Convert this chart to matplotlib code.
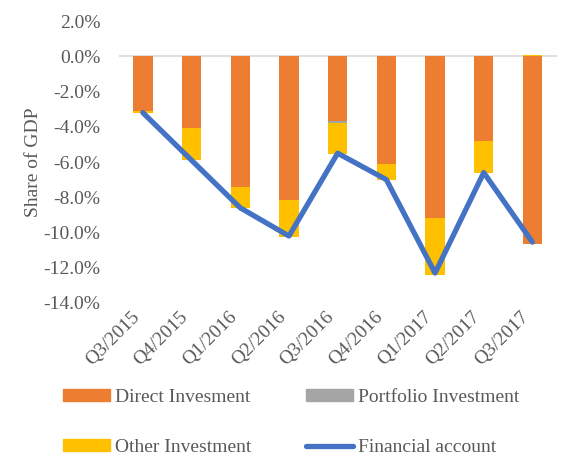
import numpy as np
import matplotlib
matplotlib.use("Agg")
from matplotlib import pyplot as plt
from matplotlib.patches import Patch
from matplotlib.lines import Line2D

quarters = ['Q3/2015', 'Q4/2015', 'Q1/2016', 'Q2/2016', 'Q3/2016',
            'Q4/2016', 'Q1/2017', 'Q2/2017', 'Q3/2017']
direct = [-3.12, -4.09, -7.43, -8.13, -3.69, -6.13, -9.15, -4.82, -10.68]
portfolio = [0.00, 0.00, 0.00, -0.05, -0.11, 0.00, 0.00, 0.00, 0.00]
other = [-0.11, -1.81, -1.19, -2.07, -1.74, -0.91, -3.24, -1.80, 0.05]
financial = [-3.20, -5.90, -8.60, -10.20, -5.50, -7.00, -12.30, -6.60, -10.55]

plt.rcParams['font.family'] = ['Liberation Serif', 'DejaVu Serif']
text_col = '#595959'

fig = plt.figure(figsize=(5.67, 4.57), dpi=100)
ax = fig.add_axes([0.209, 0.337, 0.773, 0.617])

x = np.arange(len(quarters))
pos_base = np.zeros(len(x))
neg_base = np.zeros(len(x))
for vals, col in [(direct, '#ED7D31'), (portfolio, '#A5A5A5'), (other, '#FFC000')]:
    v = np.array(vals)
    base = np.where(v >= 0, pos_base, neg_base)
    ax.bar(x, v, bottom=base, width=0.4, color=col, zorder=2)
    pos_base = pos_base + np.clip(v, 0, None)
    neg_base = neg_base + np.clip(v, None, 0)

ax.plot(x, financial, color='#4472C4', lw=3.8, solid_capstyle='round',
        solid_joinstyle='round', zorder=3)
ax.axhline(0, color='#D9D9D9', lw=1.2, zorder=1)

ax.set_xlim(-0.5, len(x) - 0.5)
ax.set_ylim(-14, 2)
ticks = np.arange(-14, 2.1, 2)
ax.set_yticks(ticks)
ax.set_yticklabels(['%.1f%%' % t for t in ticks])
ax.set_xticks(x)
ax.set_xticklabels(quarters, rotation=45, ha='right')
ax.tick_params(length=0, labelsize=14, colors=text_col)
ax.tick_params(axis='y', pad=13)
ax.tick_params(axis='x', pad=4)
for s in ax.spines.values():
    s.set_visible(False)
ax.set_ylabel('Share of GDP', fontsize=14, color=text_col, labelpad=1)

handles = [Patch(color='#ED7D31'), Patch(color='#FFC000'),
           Patch(color='#A5A5A5'),
           Line2D([], [], color='#4472C4', lw=3.8, solid_capstyle='round')]
labels = ['Direct Invesment', 'Other Investment', 'Portfolio Investment', 'Financial account']
fig.legend(handles, labels, ncol=2, loc='upper left', bbox_to_anchor=(0.098, 0.166),
           frameon=False, fontsize=14, labelcolor=text_col, handlelength=2.4,
           handleheight=0.55, handletextpad=0.26, columnspacing=2.8, labelspacing=1.7,
           borderaxespad=0)

fig.savefig('out.png', dpi=100)
